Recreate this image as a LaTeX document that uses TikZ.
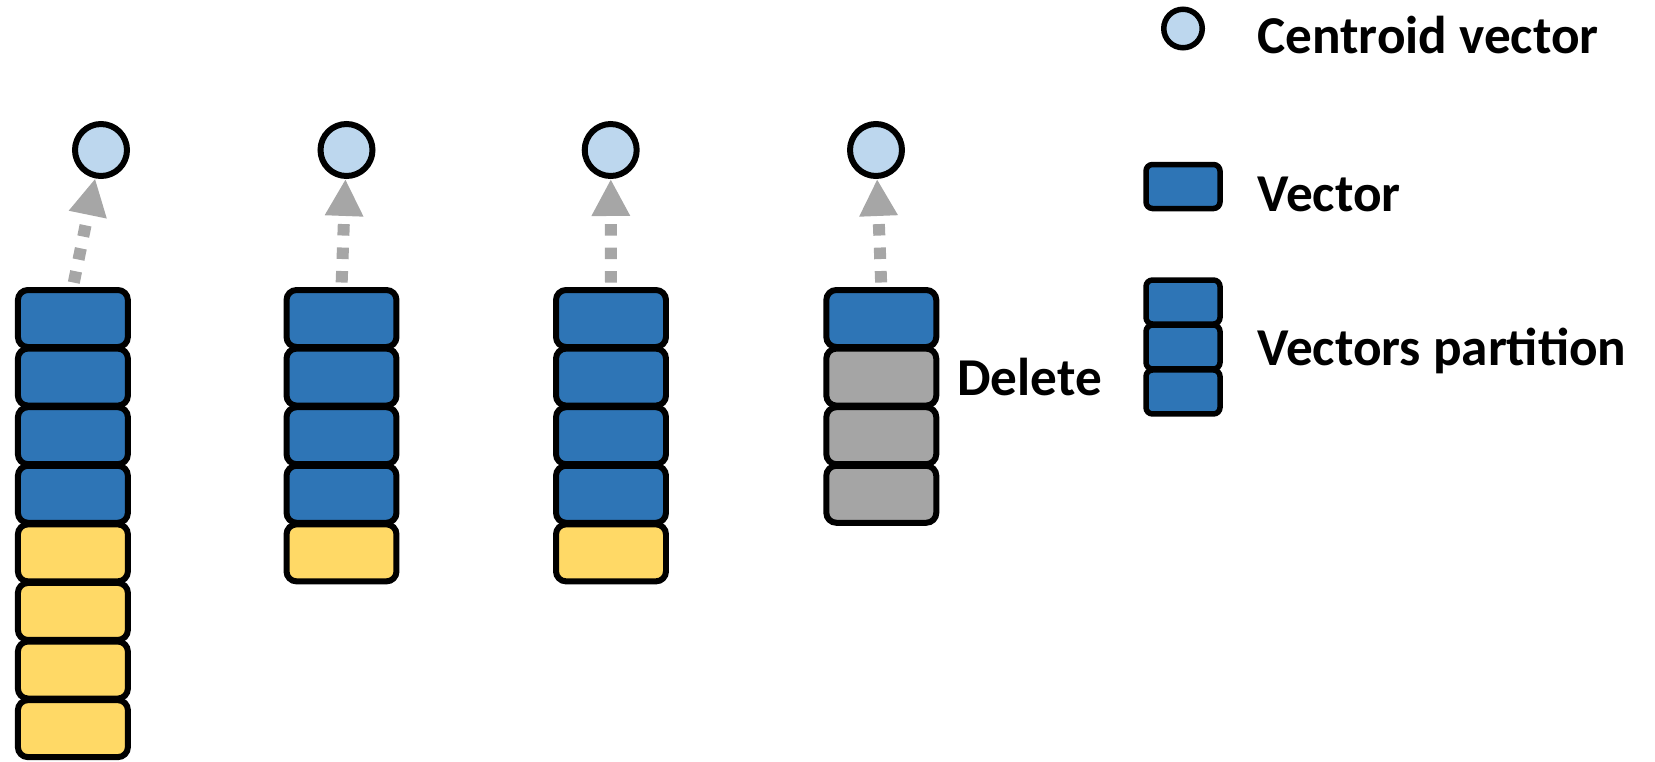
\documentclass[tikz,border=0pt]{standalone}
\usepackage{fontspec}
\setmainfont{Carlito}
\usetikzlibrary{arrows.meta,positioning}

\definecolor{vecblue}{HTML}{2E75B6}
\definecolor{vecyellow}{HTML}{FFD966}
\definecolor{vecgray}{HTML}{A5A5A5}
\definecolor{cenblue}{HTML}{BDD7EE}
\definecolor{linkgray}{HTML}{A6A6A6}

\begin{document}
\begin{tikzpicture}[x=0.02cm,y=-0.02cm,node distance=1.172cm,
vec/.style={draw,rectangle,rounded corners=0.2cm,line width=0.12cm,minimum width=2.2cm,minimum height=1.14cm,inner sep=0pt,fill=vecblue},
kept/.style={vec,fill=vecyellow},
gone/.style={vec,fill=vecgray},
cen/.style={draw,circle,line width=0.12cm,minimum size=1.04cm,inner sep=0pt,fill=cenblue},
small/.style={vec,rounded corners=0.13cm,line width=0.11cm,minimum width=1.48cm,minimum height=0.88cm},
lbl/.style={anchor=base west,inner sep=0pt,font=\fontsize{30.3}{36}\selectfont\bfseries},
link/.style={color=linkgray,line width=0.24cm,dash pattern=on 0.23cm off 0.24cm,-{Triangle[length=0.74cm,width=0.72cm]},shorten <=0.09cm}]
\useasboundingbox (0,0) rectangle (1655,761);
\node[cen] (cen1) at (101,150) {};
\node[cen] (cen2) at (346.5,150) {};
\node[cen] (cen3) at (610.7,150) {};
\node[cen] (cen4) at (876,150) {};
\node[vec] (p1v1) at (72.9,318.5) {};
\node[vec] [below of=p1v1](p1v2) {};
\node[vec] [below of=p1v2](p1v3) {};
\node[vec] [below of=p1v3](p1v4) {};
\node[kept] [below of=p1v4](p1v5) {};
\node[kept] [below of=p1v5](p1v6) {};
\node[kept] [below of=p1v6](p1v7) {};
\node[kept] [below of=p1v7](p1v8) {};
\node[vec] (p2v1) at (341.5,318.5) {};
\node[vec] [below of=p2v1](p2v2) {};
\node[vec] [below of=p2v2](p2v3) {};
\node[vec] [below of=p2v3](p2v4) {};
\node[kept] [below of=p2v4](p2v5) {};
\node[vec] (p3v1) at (611,318.5) {};
\node[vec] [below of=p3v1](p3v2) {};
\node[vec] [below of=p3v2](p3v3) {};
\node[vec] [below of=p3v3](p3v4) {};
\node[kept] [below of=p3v4](p3v5) {};
\node[vec] (p4v1) at (881.3,318.5) {};
\node[gone] [below of=p4v1](p4v2) {};
\node[gone] [below of=p4v2](p4v3) {};
\node[gone] [below of=p4v3](p4v4) {};
\node[lbl] (del) at (957,395) {Delete};
\node[cen,line width=0.11cm,minimum size=0.77cm] (lcen) at (1183,28.5) {};
\node[small] (lvec) at (1183,186.5) {};
\node[small] (lpv1) at (1183,302) {};
\node[small,node distance=0.9cm] [below of=lpv1](lpv2) {};
\node[small,node distance=0.9cm] [below of=lpv2](lpv3) {};
\node[lbl] (tcen) at (1257,53) {Centroid vector};
\node[lbl] (tvec) at (1257,211) {Vector};
\node[lbl] (tpart) at (1257,365) {Vectors partition};
\path[link] (p1v1.north) edge (cen1)
(p2v1.north) edge (cen2)
(p3v1.north) edge (cen3)
(p4v1.north) edge (cen4);
\end{tikzpicture}
\end{document}
